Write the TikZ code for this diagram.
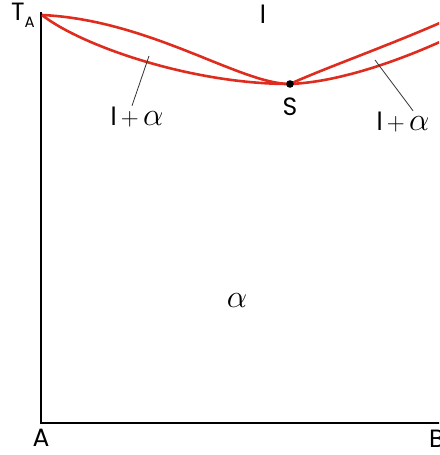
\documentclass[tikz,border=0pt]{standalone}
\usepackage{fontspec}
\setmainfont{Poppins}
\usetikzlibrary{positioning}
\definecolor{courbe}{RGB}{222,45,30}
\newcommand{\alp}{\scalebox{1.3}{$\alpha$}}
\tikzset{
  axe/.style={draw=black, line width=1.3pt},
  liquidus/.style={draw=courbe, line width=2.6pt},
  renvoi/.style={draw=black!80, line width=0.8pt},
  etiq/.style={font=\fontsize{25}{27}\selectfont, inner sep=1pt},
}

\begin{document}
\begin{tikzpicture}[x=1pt, y=-1pt]
    \clip (0,0) rectangle (439,455);
    \coordinate (haut) at (41,12);
    \coordinate (orig) at (41,423);
    \coordinate (droite) at (445,423);
    \coordinate (ta) at (42,15);
    \coordinate (s) at (290,84);
    \coordinate (fh) at (442,22);
    \coordinate (fb) at (442,41);
    \coordinate (pl) at (149,56);
    \coordinate (pr) at (375,60);
    \node[etiq] (lTA) at (23,15) {T\raisebox{-7pt}{\fontsize{15}{15}\selectfont A}};
    \node[etiq] (lL) at (263,14) {l};
    \node[etiq] (lS) at (290,107) {S};
    \node[etiq] (lg) at (137,117) {l\,$+$\,\alp};
    \node[etiq] (ld) at (403,122) {l\,$+$\,\alp};
    \node[etiq] (lalpha) at (237,301) {\alp};
    \node[etiq] (lA) at (41,438) {A};
    \node[etiq, anchor=west] (lB) at (428,439) {B};
    \draw[axe] (haut) -- (orig) -- (droite);
    \draw[liquidus] (ta) .. controls (150,20) and (240,84) .. (s);
    \draw[liquidus] (ta) .. controls (80,45) and (190,84) .. (s);
    \draw[liquidus] (s) .. controls (320,70) and (390,45) .. (fh);
    \draw[liquidus] (s) .. controls (340,82) and (400,60) .. (fb);
    \fill (s) circle (3.8);
    \draw[renvoi] (pl) -- ([xshift=-5pt]lg.north);
    \draw[renvoi] (pr) -- ([xshift=10pt]ld.north);
\end{tikzpicture}
\end{document}
